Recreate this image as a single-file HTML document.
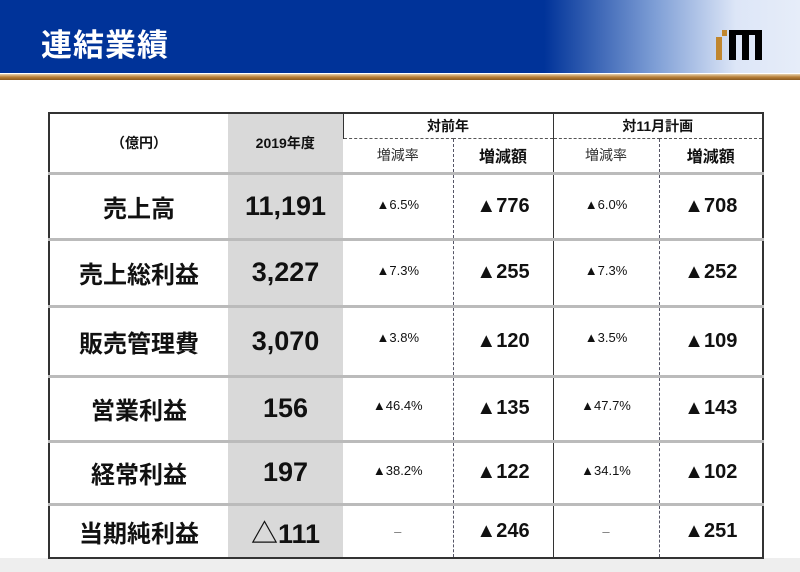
<!DOCTYPE html>
<html><head><meta charset="utf-8"><style>
body{margin:0;width:800px;height:572px;overflow:hidden;background:#fff;font-family:"Liberation Sans","Noto Sans CJK JP",sans-serif;position:relative}
.hdr{position:absolute;left:0;top:0;width:800px;height:73px;background:linear-gradient(90deg,#003399 0%,#003399 68%,#7f9fd6 82%,#dde6f7 92%,#e6edf9 100%)}
.gold{position:absolute;left:0;top:74px;width:800px;height:6px;background:linear-gradient(#e8d3b0,#b8803a 50%,#8a5a20)}
.title{position:absolute;left:41px;top:26px;color:#fff;font-size:31px;line-height:40px;font-weight:bold;letter-spacing:1px}
.lg{position:absolute;background:#000}
.bot{position:absolute;left:0;top:558px;width:800px;height:14px;background:#eeeeee}
table{position:absolute;left:48px;top:112px;border-collapse:collapse;border:2px solid #333}
td{padding:0;text-align:center;color:#111}
.g{background:#d9d9d9}
</style></head><body>
<div class="hdr"></div><div class="gold"></div>
<div class="title">連結業績</div>
<div class="lg" style="left:716px;top:37px;width:6px;height:23px;background:#c0862f"></div>
<div class="lg" style="left:722px;top:30px;width:5px;height:6px;background:#c0862f"></div>
<div class="lg" style="left:729px;top:30px;width:7px;height:30px"></div>
<div class="lg" style="left:736px;top:30px;width:6px;height:5px"></div>
<div class="lg" style="left:742px;top:30px;width:7px;height:30px"></div>
<div class="lg" style="left:749px;top:30px;width:6px;height:5px"></div>
<div class="lg" style="left:755px;top:30px;width:7px;height:30px"></div>
<div class="bot"></div>
<table>
<colgroup><col style="width:179px"><col style="width:115px"><col style="width:110px"><col style="width:100px"><col style="width:106px"><col style="width:104px"></colgroup>
<tr style="height:25px"><td rowspan="2" style="font-size:14px;font-weight:bold;border-bottom:3px solid #bbb">（億円）</td><td rowspan="2" class="g" style="font-size:14px;font-weight:bold;border-bottom:3px solid #bbb">2019年度</td><td colspan="2" style="font-size:14px;font-weight:bold;border-bottom:1px dashed #555;border-left:1px solid #333">対前年</td><td colspan="2" style="font-size:14px;font-weight:bold;border-bottom:1px dashed #555;border-left:1px solid #333">対11月計画</td></tr>
<tr style="height:35px"><td style="font-size:14px;color:#333;border-bottom:3px solid #bbb">増減率</td><td style="font-size:16px;font-weight:bold;border-left:1px dashed #556;border-bottom:3px solid #bbb">増減額</td><td style="font-size:14px;color:#333;border-left:1px solid #333;border-bottom:3px solid #bbb">増減率</td><td style="font-size:16px;font-weight:bold;border-left:1px dashed #556;border-bottom:3px solid #bbb">増減額</td></tr>
<tbody style="font-weight:bold">
<tr style="height:66px"><td style="font-size:24px;border-bottom:3px solid #bbb">売上高</td><td class="g" style="font-size:27px;border-bottom:3px solid #bbb">11,191</td><td style="font-size:13px;font-weight:normal;vertical-align:top;padding-top:22px;border-bottom:3px solid #bbb">▲6.5%</td><td style="font-size:20px;border-left:1px dashed #556;border-bottom:3px solid #bbb">▲776</td><td style="font-size:13px;font-weight:normal;vertical-align:top;padding-top:22px;border-left:1px solid #333;border-bottom:3px solid #bbb">▲6.0%</td><td style="font-size:20px;border-left:1px dashed #556;border-bottom:3px solid #bbb">▲708</td></tr>
<tr style="height:67px"><td style="font-size:24px;border-bottom:3px solid #bbb">売上総利益</td><td class="g" style="font-size:27px;border-bottom:3px solid #bbb">3,227</td><td style="font-size:13px;font-weight:normal;vertical-align:top;padding-top:22px;border-bottom:3px solid #bbb">▲7.3%</td><td style="font-size:20px;border-left:1px dashed #556;border-bottom:3px solid #bbb">▲255</td><td style="font-size:13px;font-weight:normal;vertical-align:top;padding-top:22px;border-left:1px solid #333;border-bottom:3px solid #bbb">▲7.3%</td><td style="font-size:20px;border-left:1px dashed #556;border-bottom:3px solid #bbb">▲252</td></tr>
<tr style="height:70px"><td style="font-size:24px;border-bottom:3px solid #bbb">販売管理費</td><td class="g" style="font-size:27px;border-bottom:3px solid #bbb">3,070</td><td style="font-size:13px;font-weight:normal;vertical-align:top;padding-top:22px;border-bottom:3px solid #bbb">▲3.8%</td><td style="font-size:20px;border-left:1px dashed #556;border-bottom:3px solid #bbb">▲120</td><td style="font-size:13px;font-weight:normal;vertical-align:top;padding-top:22px;border-left:1px solid #333;border-bottom:3px solid #bbb">▲3.5%</td><td style="font-size:20px;border-left:1px dashed #556;border-bottom:3px solid #bbb">▲109</td></tr>
<tr style="height:65px"><td style="font-size:24px;border-bottom:3px solid #bbb">営業利益</td><td class="g" style="font-size:27px;border-bottom:3px solid #bbb">156</td><td style="font-size:13px;font-weight:normal;vertical-align:top;padding-top:20px;border-bottom:3px solid #bbb">▲46.4%</td><td style="font-size:20px;border-left:1px dashed #556;border-bottom:3px solid #bbb">▲135</td><td style="font-size:13px;font-weight:normal;vertical-align:top;padding-top:20px;border-left:1px solid #333;border-bottom:3px solid #bbb">▲47.7%</td><td style="font-size:20px;border-left:1px dashed #556;border-bottom:3px solid #bbb">▲143</td></tr>
<tr style="height:63px"><td style="font-size:24px;border-bottom:3px solid #bbb">経常利益</td><td class="g" style="font-size:27px;border-bottom:3px solid #bbb">197</td><td style="font-size:13px;font-weight:normal;vertical-align:top;padding-top:20px;border-bottom:3px solid #bbb">▲38.2%</td><td style="font-size:20px;border-left:1px dashed #556;border-bottom:3px solid #bbb">▲122</td><td style="font-size:13px;font-weight:normal;vertical-align:top;padding-top:20px;border-left:1px solid #333;border-bottom:3px solid #bbb">▲34.1%</td><td style="font-size:20px;border-left:1px dashed #556;border-bottom:3px solid #bbb">▲102</td></tr>
<tr style="height:54px"><td style="font-size:24px">当期純利益</td><td class="g" style="font-size:27px">△111</td><td style="font-size:13px;font-weight:normal;color:#777">–</td><td style="font-size:20px;border-left:1px dashed #556">▲246</td><td style="font-size:13px;font-weight:normal;color:#777;border-left:1px solid #333">–</td><td style="font-size:20px;border-left:1px dashed #556">▲251</td></tr>
</tbody></table>
</body></html>
